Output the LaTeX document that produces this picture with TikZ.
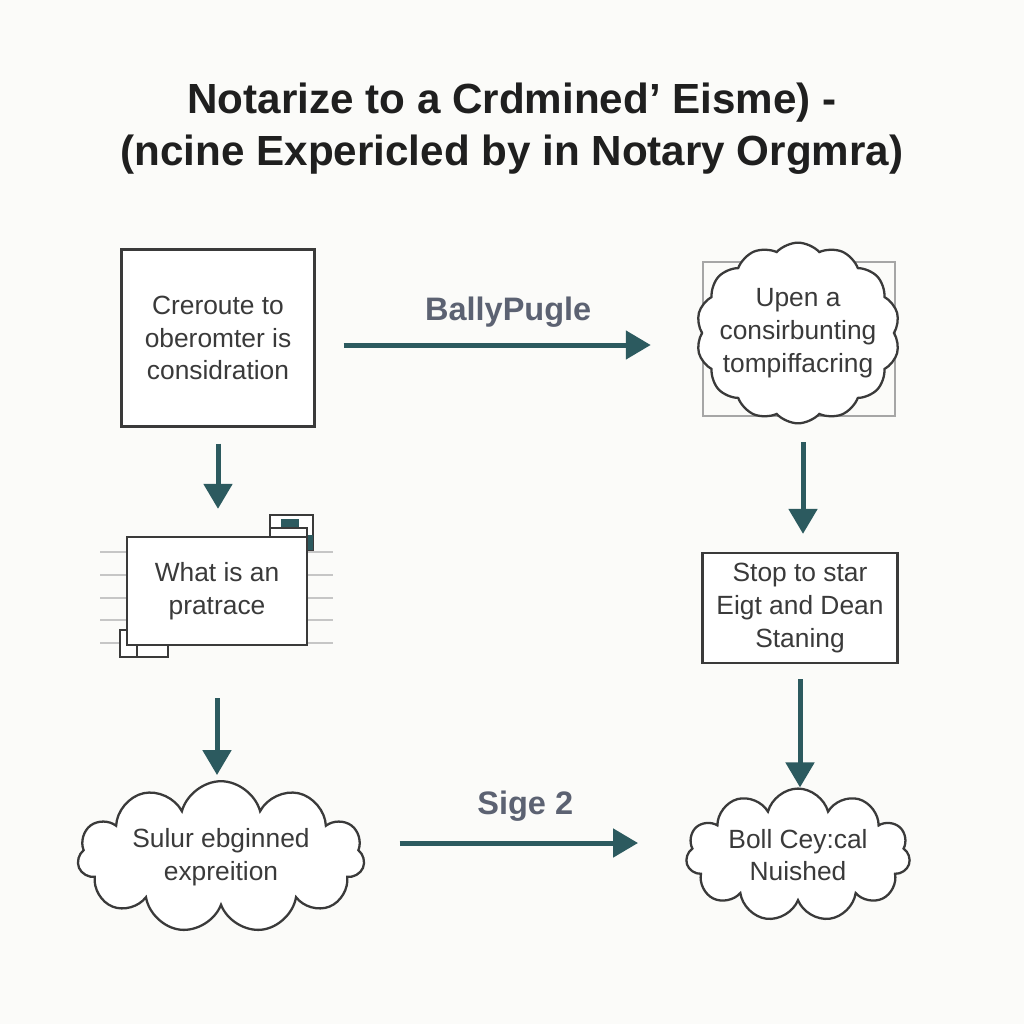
\documentclass[tikz,border=0pt]{standalone}
\usepackage{fontspec}
\setmainfont{Liberation Sans}
\usepackage{xcolor}
\usetikzlibrary{arrows.meta, positioning, shapes.symbols, backgrounds, calc}

\definecolor{flowteal}{HTML}{2C5A5F}
\definecolor{inkgray}{HTML}{3A3A3A}
\definecolor{labelgray}{HTML}{5C6272}
\definecolor{paper}{HTML}{FBFBF9}

\begin{document}
\begin{tikzpicture}[
    x=0.02cm, y=-0.02cm,
    stepbox/.style={
        rectangle, draw=inkgray, line width=1.3pt, fill=white,
        text=inkgray, align=center, inner sep=4pt,
        font=\fontsize{15}{18.7}\selectfont
    },
    thought/.style={
        cloud, cloud puffs=11, cloud ignores aspect,
        draw=inkgray, line width=1.3pt, fill=white,
        text=inkgray, align=center,
        font=\fontsize{15}{18.7}\selectfont
    },
    flow/.style={-{Triangle[length=0.5cm, width=0.56cm]}, line width=0.1cm, draw=flowteal},
    tag/.style={font=\fontsize{18.5}{22}\selectfont\bfseries, text=labelgray}
]
    \useasboundingbox (0,0) rectangle (1024,1024);

    \node[font=\fontsize{24}{29.5}\selectfont\bfseries, text=black!88, align=center] (title) at (512,129)
        {Notarize to a Crdmined' Eisme) -\\(ncine Expericled by in Notary Orgmra)};

    \node[stepbox, minimum width=3.86cm, minimum height=3.54cm] (consider) at (218,338)
        {Creroute to\\oberomter is\\considration};
    \node[stepbox, minimum width=3.6cm, minimum height=2.16cm] (practice) at (217,591)
        {What is an\\pratrace};
    \node[thought, minimum width=5.74cm, minimum height=2.7cm] (expr) at (221,857)
        {Sulur ebginned\\expreition};

    \node[thought, cloud puffs=14, cloud puff arc=95, inner xsep=-6pt, inner ysep=8pt] (upen) at (798,333)
        {Upen a\\consirbunting\\tompiffacring};
    \node[stepbox, minimum width=3.9cm, minimum height=2.2cm] (stop) at (800,608)
        {Stop to star\\Eigt and Dean\\Staning};
    \node[thought, minimum width=4.4cm, minimum height=2.4cm] (boll) at (798,855)
        {Boll Cey:cal\\Nuished};

    \draw[flow, shorten <=0.56cm, shorten >=1cm] ([yshift=-0.14cm]consider.east) -- ([yshift=-0.14cm]consider.east -| upen.west)
        node[midway, tag, yshift=0.66cm] {BallyPugle};
    \draw[flow, shorten <=0.32cm, shorten >=0.54cm] (consider.south) -- (consider.south |- practice.north);
    \draw[flow, shorten <=1.04cm, shorten >=0.1cm] (practice.south) -- (practice.south |- expr.north);
    \draw[flow, shorten <=0.36cm, shorten >=0.36cm] ([xshift=0.1cm]upen.south) -- ([xshift=0.1cm]upen.south |- stop.north);
    \draw[flow, shorten <=0.3cm] (stop.south) -- (stop.south |- boll.north);
    \draw[flow, shorten <=0.7cm, shorten >=0.96cm] ([yshift=0.28cm]expr.east) -- ([yshift=0.28cm]expr.east -| boll.west)
        node[midway, tag, yshift=0.74cm] {Sige 2};

    % paper, frame behind the cloud, clutter round the second box
    \begin{scope}[on background layer]
        \fill[paper] (0,0) rectangle (1024,1024);
        \draw[gray!70, line width=1.1pt] (703,262) rectangle (895,416);
        \foreach \y in {552,575,598,620,643}
            \draw[gray!45, line width=1pt] (100,\y) -- (333,\y);
        \draw[inkgray, line width=1pt, fill=white] (270,515) rectangle (313,550);
        \fill[flowteal] (281,519) rectangle (299,528);
        \fill[flowteal] (305,535) rectangle (313,550);
        \draw[inkgray, line width=1pt, fill=white] (270,528) rectangle (307,540);
        \draw[inkgray, line width=1pt, fill=white] (120,630) rectangle (168,657);
        \draw[inkgray, line width=1pt] (137,630) -- (137,657);
    \end{scope}
\end{tikzpicture}
\end{document}
